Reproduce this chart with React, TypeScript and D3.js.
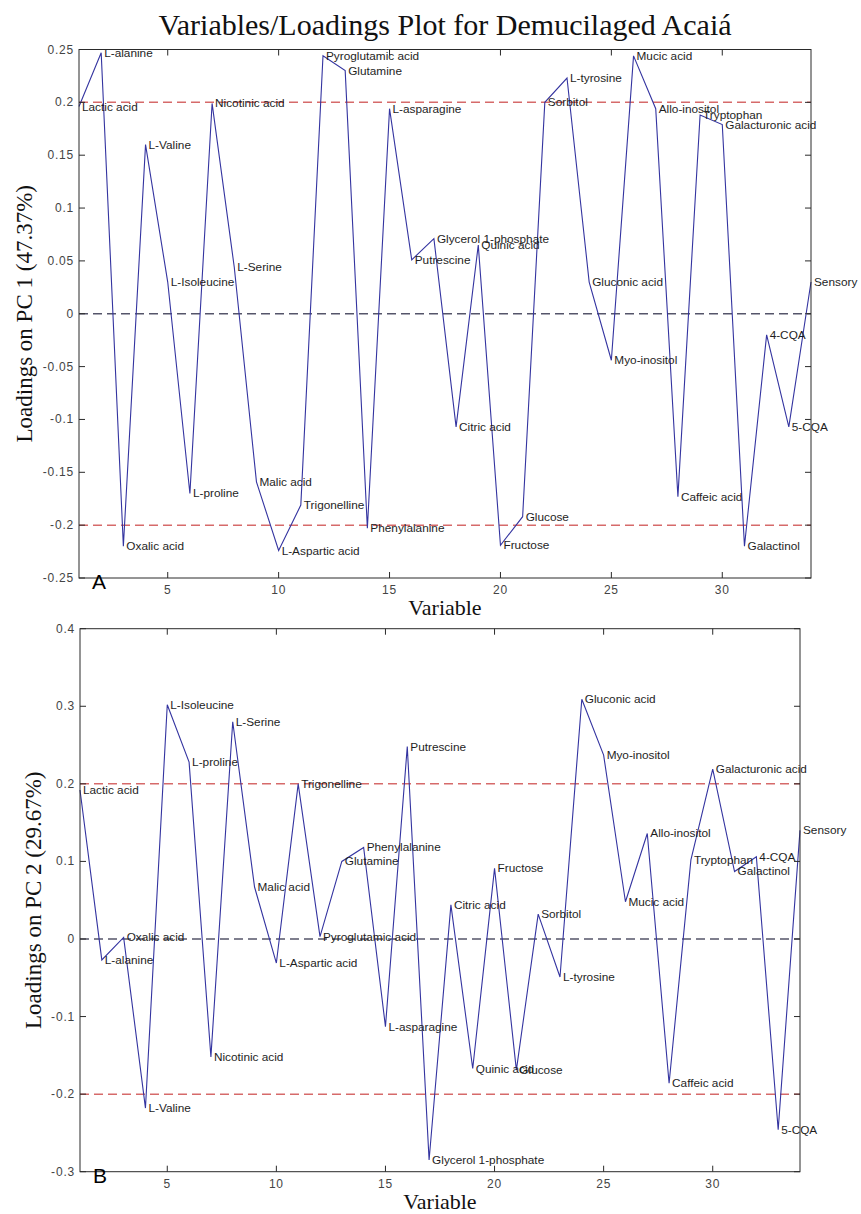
import * as d3 from "d3";

const variables = [
  "Lactic acid", "L-alanine", "Oxalic acid", "L-Valine", "L-Isoleucine", "L-proline",
  "Nicotinic acid", "L-Serine", "Malic acid", "L-Aspartic acid", "Trigonelline",
  "Pyroglutamic acid", "Glutamine", "Phenylalanine", "L-asparagine", "Putrescine",
  "Glycerol 1-phosphate", "Citric acid", "Quinic acid", "Fructose", "Glucose", "Sorbitol",
  "L-tyrosine", "Gluconic acid", "Myo-inositol", "Mucic acid", "Allo-inositol",
  "Caffeic acid", "Tryptophan", "Galacturonic acid", "Galactinol", "4-CQA", "5-CQA", "Sensory",
];

const pc1 = [
  0.196, 0.247, -0.22, 0.16, 0.03, -0.17, 0.199, 0.044, -0.159, -0.224, -0.181,
  0.244, 0.23, -0.203, 0.194, 0.051, 0.071, -0.107, 0.065, -0.219, -0.192, 0.2,
  0.223, 0.03, -0.044, 0.244, 0.194, -0.173, 0.188, 0.179, -0.22, -0.02, -0.107, 0.03,
];

const pc2 = [
  0.192, -0.027, 0.002, -0.218, 0.302, 0.228, -0.152, 0.28, 0.067, -0.031, 0.2,
  0.003, 0.1, 0.118, -0.113, 0.248, -0.285, 0.044, -0.167, 0.091, -0.169, 0.032,
  -0.049, 0.309, 0.237, 0.048, 0.136, -0.186, 0.102, 0.219, 0.087, 0.106, -0.246, 0.14,
];

const xTicks = [5, 10, 15, 20, 25, 30];
const yTicksA = [0.25, 0.2, 0.15, 0.1, 0.05, 0, -0.05, -0.1, -0.15, -0.2, -0.25];
const yTicksB = [0.4, 0.3, 0.2, 0.1, 0, -0.1, -0.2, -0.3];

const sans = "'Liberation Sans', Arial, sans-serif";
const serif = "'Liberation Serif', 'Times New Roman', serif";

type PanelProps = {
  values: number[];
  box: { left: number; right: number; top: number; bottom: number };
  yDomain: [number, number];
  yTicks: number[];
  ylabel: string;
  letter: string;
  ylabelX: number;
};

function fmt(v: number) {
  if (v === 0) return "0";
  return String(+v.toFixed(2));
}

function Panel({ values, box, yDomain, yTicks, ylabel, letter, ylabelX }: PanelProps) {
  const x = d3.scaleLinear().domain([1, 34]).range([box.left, box.right]);
  const y = d3.scaleLinear().domain(yDomain).range([box.bottom, box.top]);
  const line = d3
    .line<number>()
    .x((_, i) => x(i + 1))
    .y((d) => y(d));
  const tl = 6;
  const cy = (box.top + box.bottom) / 2;

  return (
    <g>
      {/* threshold + zero lines */}
      <line x1={box.left} x2={box.right} y1={y(0.2)} y2={y(0.2)} stroke="#d66a6a" strokeWidth={1.5} strokeDasharray="9,5" />
      <line x1={box.left} x2={box.right} y1={y(-0.2)} y2={y(-0.2)} stroke="#d66a6a" strokeWidth={1.5} strokeDasharray="9,5" />
      <line x1={box.left} x2={box.right} y1={y(0)} y2={y(0)} stroke="#55556a" strokeWidth={1.6} strokeDasharray="9,5" />

      <path d={line(values) ?? ""} fill="none" stroke="#3434a0" strokeWidth={1.1} />

      {values.map((v, i) => (
        <text key={i} x={x(i + 1) + 3} y={y(v) + 4} fontFamily={sans} fontSize={11.8} fill="#1e1e1e">
          {variables[i]}
        </text>
      ))}

      <rect x={box.left} y={box.top} width={box.right - box.left} height={box.bottom - box.top} fill="none" stroke="#2a2a2a" strokeWidth={1} />

      {xTicks.map((t) => (
        <g key={t}>
          <line x1={x(t)} x2={x(t)} y1={box.bottom} y2={box.bottom - tl} stroke="#2a2a2a" />
          <line x1={x(t)} x2={x(t)} y1={box.top} y2={box.top + tl} stroke="#2a2a2a" />
          <text x={x(t)} y={box.bottom + 16} textAnchor="middle" fontFamily={sans} fontSize={12} letterSpacing={0.8} fill="#444">
            {t}
          </text>
        </g>
      ))}
      {yTicks.map((t) => (
        <g key={t}>
          <line x1={box.left} x2={box.left + tl} y1={y(t)} y2={y(t)} stroke="#2a2a2a" />
          <line x1={box.right} x2={box.right - tl} y1={y(t)} y2={y(t)} stroke="#2a2a2a" />
          <text x={box.left - 5} y={y(t) + 4} textAnchor="end" fontFamily={sans} fontSize={12} letterSpacing={0.8} fill="#444">
            {fmt(t)}
          </text>
        </g>
      ))}

      <text x={box.left + 13} y={box.bottom + 11} fontFamily={sans} fontSize={21} fill="#000">
        {letter}
      </text>
      <text x={(box.left + box.right) / 2} y={box.bottom + 37} textAnchor="middle" fontFamily={serif} fontSize={22} fill="#111">
        Variable
      </text>
      <text
        transform={`translate(${ylabelX},${cy}) rotate(-90)`}
        textAnchor="middle"
        fontFamily={serif}
        fontSize={23}
        fill="#111"
      >
        {ylabel}
      </text>
    </g>
  );
}

export default function App() {
  return (
    <svg width={861} height={1214} style={{ position: "absolute", left: 0, top: 0, background: "#fff" }}>
      <rect width={861} height={1214} fill="#fff" />
      <text x={445} y={35} textAnchor="middle" fontFamily={serif} fontSize={30} fill="#111">
        Variables/Loadings Plot for Demucilaged Acaiá
      </text>
      <Panel
        values={pc1}
        box={{ left: 79, right: 811, top: 49.5, bottom: 578 }}
        yDomain={[-0.25, 0.25]}
        yTicks={yTicksA}
        ylabel="Loadings on PC 1 (47.37%)"
        letter="A"
        ylabelX={32}
      />
      <Panel
        values={pc2}
        box={{ left: 80, right: 800, top: 628.7, bottom: 1171.7 }}
        yDomain={[-0.3, 0.4]}
        yTicks={yTicksB}
        ylabel="Loadings on PC 2 (29.67%)"
        letter="B"
        ylabelX={41}
      />
    </svg>
  );
}
